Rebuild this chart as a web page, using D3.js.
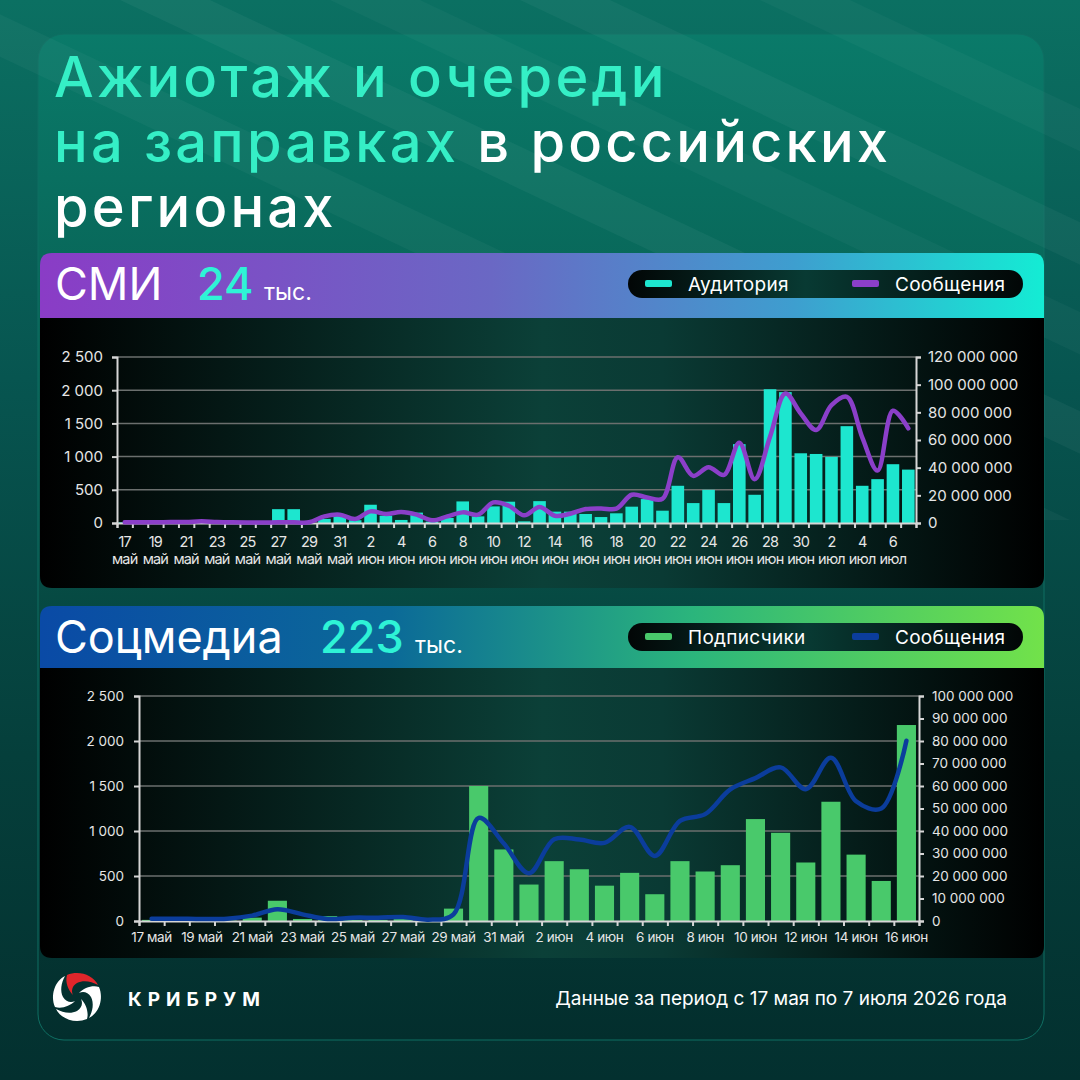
<!DOCTYPE html>
<html>
<head>
<meta charset="utf-8">
<script src="https://cdn.jsdelivr.net/npm/d3@7"></script>
<style>
  body { margin: 0; background: #06403c; }
  svg { display: block; font-family: Inter, "Noto Sans", sans-serif; }
</style>
</head>
<body>
<svg id="chart" width="1080" height="1080"></svg>
<script>
// --- СМИ: 17 май .. 7 июл
const days1 = ["17 май","18 май","19 май","20 май","21 май","22 май","23 май","24 май","25 май","26 май",
  "27 май","28 май","29 май","30 май","31 май","1 июн","2 июн","3 июн","4 июн","5 июн","6 июн","7 июн",
  "8 июн","9 июн","10 июн","11 июн","12 июн","13 июн","14 июн","15 июн","16 июн","17 июн","18 июн",
  "19 июн","20 июн","21 июн","22 июн","23 июн","24 июн","25 июн","26 июн","27 июн","28 июн","29 июн",
  "30 июн","1 июл","2 июл","3 июл","4 июл","5 июл","6 июл","7 июл"];
// аудитория, млн (правая ось)
const audience1 = [0.5,0,0,1.5,0,0,0,0,0,0,10,10,0,3,5,2,13.2,5.3,2.2,7.5,1,3.6,15.6,4.8,12,15.4,
  1.2,15.8,8.2,8.2,6.5,4.3,7,11.8,17.3,8.9,26.9,14.4,24,14.4,57,20.4,96.7,94.6,50.4,49.9,47.8,70,
  26.9,31.7,42.5,38.6];
// сообщения (левая ось)
const messages1 = [10,10,10,15,15,25,15,10,8,8,10,10,10,100,125,60,175,135,165,125,40,100,160,125,310,
  260,115,240,110,140,210,220,215,425,385,365,990,710,840,725,1210,660,1300,1950,1650,1400,1775,1900,
  1290,790,1690,1425];
const leftTicks1 = [0,500,1000,1500,2000,2500];
const rightTicks1 = [0,20,40,60,80,100,120];

// --- Соцмедиа: 17 май .. 16 июн
const days2 = ["17 май","18 май","19 май","20 май","21 май","22 май","23 май","24 май","25 май","26 май",
  "27 май","28 май","29 май","30 май","31 май","1 июн","2 июн","3 июн","4 июн","5 июн","6 июн","7 июн",
  "8 июн","9 июн","10 июн","11 июн","12 июн","13 июн","14 июн","15 июн","16 июн"];
// подписчики, млн (правая ось)
const subscribers2 = [0.5,0.2,0.2,0.2,1.5,9,0.9,2.2,0.5,0.5,1,0.3,5.5,60,31.8,16.2,26.6,23,15.7,21.4,
  11.9,26.6,22,24.8,45.3,39.2,26,53,29.5,17.8,87.1];
const messages2 = [26,26,22,26,60,130,74,22,37,37,45,15,74,1146,860,531,909,905,868,1046,723,1113,1187,
  1462,1588,1707,1465,1814,1330,1250,2003];
const leftTicks2 = [0,500,1000,1500,2000,2500];
const rightTicks2 = [0,10,20,30,40,50,60,70,80,90,100];

const svg = d3.select("#chart");
const defs = svg.append("defs");

const loc = d3.formatLocale({decimal: ",", thousands: " ", grouping: [3], currency: ["", ""]});
const fmt = loc.format(",d");

function linGrad(id, stops, x2, y2) {
  const g = defs.append("linearGradient").attr("id", id)
    .attr("x1", 0).attr("y1", 0).attr("x2", x2).attr("y2", y2);
  stops.forEach(s => g.append("stop").attr("offset", s[0]).attr("stop-color", s[1]));
}
linGrad("bg", [[0, "#0b7062"], [0.35, "#075550"], [0.7, "#053f3b"], [1, "#03302f"]], 0, 1);
linGrad("card", [[0, "#0a7a69"], [0.3, "#086356"], [0.6, "#064640"], [1, "#032e2d"]], 0, 1);
linGrad("head1", [[0, "#8a3cc6"], [0.45, "#6a68c4"], [0.75, "#3e9ecf"], [1, "#14ecd4"]], 1, 0);
linGrad("head2", [[0, "#0a4aa6"], [0.35, "#0b6a98"], [0.65, "#2bb57c"], [1, "#72e24a"]], 1, 0);
linGrad("panel", [[0, "#000000"], [0.5, "#0b4038"], [0.62, "#0a3a34"], [1, "#000000"]], 1, 0);
linGrad("pill", [[0, "#020606"], [0.45, "#083a33"], [1, "#020606"]], 1, 0);

// background
svg.append("rect").attr("width", 1080).attr("height", 1080).attr("fill", "url(#bg)");
svg.append("rect").attr("x", 38).attr("y", 34).attr("width", 1006).attr("height", 1006)
  .attr("rx", 26).attr("fill", "url(#card)").attr("stroke", "#0f6e62").attr("stroke-width", 1);

// diagonal streaks
const streaks = svg.append("g");
[[120, 0.045], [330, 0.03], [520, 0.04], [760, 0.03], [-120, 0.035]].forEach(([x0, op]) => {
  streaks.append("path")
    .attr("d", `M${x0},0 L${x0 + 90},0 L${x0 + 1190},520 L${x0 + 1100},520 Z`)
    .attr("fill", "#ffffff").attr("opacity", op);
});

// title
const title = svg.append("g").attr("font-size", 56).attr("font-weight", 500).attr("letter-spacing", 3.2);
title.append("text").attr("x", 54).attr("y", 97).attr("fill", "#35efc6").text("Ажиотаж и очереди");
const t2 = title.append("text").attr("x", 54).attr("y", 162);
t2.append("tspan").attr("fill", "#35efc6").text("на заправках");
t2.append("tspan").attr("fill", "#ffffff").text(" в российских");
title.append("text").attr("x", 54).attr("y", 227).attr("fill", "#ffffff").text("регионах");

function header(y, h, grad, name, num, numX, unitX, leg) {
  const g = svg.append("g");
  g.append("path")
    .attr("d", `M40,${y + h} L40,${y + 12} Q40,${y} 52,${y} L1032,${y} Q1044,${y} 1044,${y + 12} L1044,${y + h} Z`)
    .attr("fill", `url(#${grad})`);
  g.append("text").attr("x", 55).attr("y", y + 47).attr("font-size", 45).attr("fill", "#fff").text(name);
  g.append("text").attr("x", numX).attr("y", y + 47).attr("font-size", 45).attr("font-weight", 500)
    .attr("fill", "#2ef3d6").text(num);
  g.append("text").attr("x", unitX).attr("y", y + 47).attr("font-size", 23).attr("fill", "#fff").text("тыс.");
  const py = y + 17;
  g.append("rect").attr("x", 628).attr("y", py).attr("width", 395).attr("height", 28).attr("rx", 14)
    .attr("fill", "url(#pill)");
  leg.forEach((d, i) => {
    const lx = i === 0 ? 645 : 852;
    g.append("rect").attr("x", lx).attr("y", py + 10).attr("width", 27).attr("height", 7).attr("rx", 2)
      .attr("fill", d.color);
    g.append("text").attr("x", lx + 43).attr("y", py + 20.5).attr("font-size", 19).attr("letter-spacing", 0.3)
      .attr("fill", "#fff").text(d.label);
  });
}

function panel(y, h) {
  svg.append("path")
    .attr("d", `M40,${y} L1044,${y} L1044,${y + h - 12} Q1044,${y + h} 1032,${y + h} L52,${y + h} Q40,${y + h} 40,${y + h - 12} Z`)
    .attr("fill", "url(#panel)");
}

function drawChart(o) {
  const g = svg.append("g");
  const n = o.days.length;
  const x = d3.scaleBand().domain(d3.range(n)).range([o.x0, o.x1]).paddingInner(o.pad).paddingOuter(o.pad / 2);
  const xEdge = d3.scaleLinear().domain([0, n]).range([o.x0, o.x1]);
  const yL = d3.scaleLinear().domain([0, 2500]).range([o.y1, o.y0]);
  const yR = d3.scaleLinear().domain([0, o.rightMax]).range([o.y1, o.y0]);

  // grid
  g.append("g").selectAll("line").data(o.leftTicks.filter(v => v > 0)).join("line")
    .attr("x1", o.x0).attr("x2", o.x1).attr("y1", d => yL(d)).attr("y2", d => yL(d))
    .attr("stroke", "#6b6f6e").attr("stroke-width", 1.5);

  // bars
  g.append("g").selectAll("rect").data(o.bars).join("rect")
    .attr("x", (d, i) => x(i)).attr("width", x.bandwidth())
    .attr("y", d => yR(d)).attr("height", d => o.y1 - yR(d))
    .attr("fill", o.barColor);

  // axes
  const axL = g.append("g").attr("transform", `translate(${o.x0},0)`)
    .call(d3.axisLeft(yL).tickValues(o.leftTicks).tickFormat(fmt).tickSize(5).tickPadding(o.lPad));
  const axR = g.append("g").attr("transform", `translate(${o.x1},0)`)
    .call(d3.axisRight(yR).tickValues(o.rightTicks).tickFormat(d => fmt(d * 1e6)).tickSize(5).tickPadding(o.rPad));
  const axB = g.append("g").attr("transform", `translate(0,${o.y1})`)
    .call(d3.axisBottom(xEdge).tickValues(d3.range(n + 1)).tickFormat("").tickSize(5));
  [axL, axR, axB].forEach(a => {
    a.select(".domain").attr("stroke", "#d6d6d6").attr("stroke-width", 2);
    a.selectAll(".tick line").attr("stroke", "#d6d6d6").attr("stroke-width", 2);
    a.selectAll("text").attr("fill", "#e6e6e6").attr("font-size", o.fs).attr("font-family", "Inter, sans-serif");
  });

  // x labels
  const lab = g.append("g").attr("fill", "#e6e6e6").attr("font-size", o.fsX).attr("text-anchor", "middle")
    .attr("letter-spacing", o.lsX);
  o.days.forEach((d, i) => {
    if (i % 2) return;
    const cx = x(i) + x.bandwidth() / 2;
    const parts = d.split(" ");
    if (o.twoLine) {
      lab.append("text").attr("x", cx).attr("y", o.y1 + 24).text(parts[0]);
      lab.append("text").attr("x", cx).attr("y", o.y1 + 41).text(parts[1]);
    } else {
      lab.append("text").attr("x", cx).attr("y", o.y1 + 21).text(d);
    }
  });

  // line
  const line = d3.line().x((d, i) => x(i) + x.bandwidth() / 2).y(d => yL(d)).curve(d3.curveCatmullRom.alpha(0.5));
  g.append("path").datum(o.line).attr("d", line).attr("fill", "none")
    .attr("stroke", o.lineColor).attr("stroke-width", 4.5).attr("stroke-linecap", "round").attr("stroke-linejoin", "round");
}

header(253, 66, "head1", "СМИ", "24", 197, 264,
  [{label: "Аудитория", color: "#1de6cf"}, {label: "Сообщения", color: "#8b3fc9"}]);
panel(318, 270);
drawChart({days: days1, bars: audience1, line: messages1, x0: 117, x1: 916, y0: 357, y1: 523,
  pad: 0.18, rightMax: 120, leftTicks: leftTicks1, rightTicks: rightTicks1, lPad: 9, rPad: 7,
  fs: 15, fsX: 14.5, lsX: -0.8, twoLine: true, barColor: "#1de6cf", lineColor: "#8b3fc9"});

header(606, 63, "head2", "Соцмедиа", "223", 320, 415,
  [{label: "Подписчики", color: "#49c96b"}, {label: "Сообщения", color: "#0b3d9c"}]);
panel(668, 290);
drawChart({days: days2, bars: subscribers2, line: messages2, x0: 139, x1: 919, y0: 696, y1: 921,
  pad: 0.24, rightMax: 100, leftTicks: leftTicks2, rightTicks: rightTicks2, lPad: 10, rPad: 8,
  fs: 13.5, fsX: 13.5, lsX: -0.4, twoLine: false, barColor: "#49c96b", lineColor: "#0b3d9c"});

// footer
const logo = svg.append("g").attr("transform", "translate(77,997)");
[0, 90, 180, 270].forEach((a, i) => {
  logo.append("path")
    .attr("d", "M-10,-22 C2,-27 16,-22 21,-12 C14,-16 6,-17 0,-14 C-5,-11 -6,-6 -4,-2 C-9,-7 -12,-15 -10,-22 Z")
    .attr("transform", `rotate(${a})`)
    .attr("fill", i === 0 ? "#e0262b" : "#ffffff");
});
svg.append("text").attr("x", 128).attr("y", 1006).attr("font-size", 19).attr("font-weight", 700)
  .attr("letter-spacing", 6).attr("fill", "#fff").text("КРИБРУМ");
svg.append("text").attr("x", 1007).attr("y", 1005).attr("text-anchor", "end").attr("font-size", 19)
  .attr("fill", "#fff").text("Данные за период с 17 мая по 7 июля 2026 года");
</script>
</body>
</html>
